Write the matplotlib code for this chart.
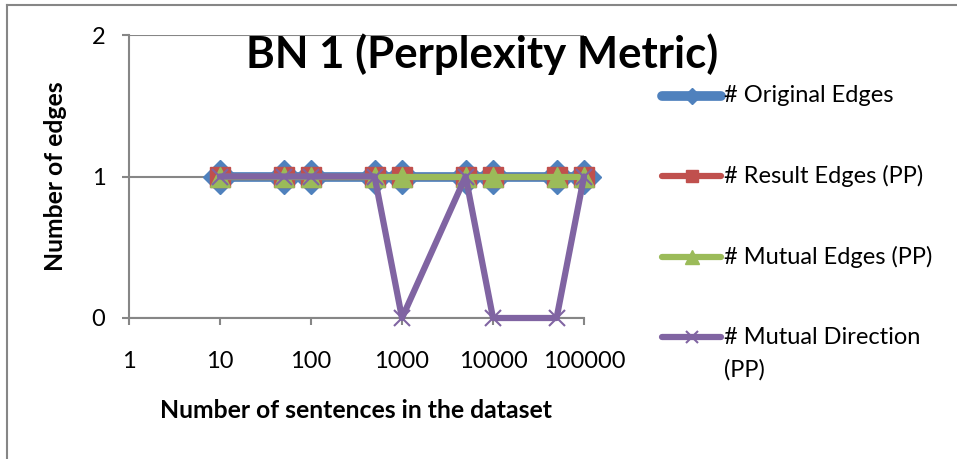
import matplotlib
matplotlib.use("Agg")
import matplotlib.pyplot as plt
from matplotlib.lines import Line2D

plt.rcParams['font.family'] = ['Lato', 'DejaVu Sans']

sentences = [10, 50, 100, 500, 1000, 5000, 10000, 50000, 100000]
original_edges = [1, 1, 1, 1, 1, 1, 1, 1, 1]
result_edges = [1, 1, 1, 1, 1, 1, 1, 1, 1]
mutual_edges = [1, 1, 1, 1, 1, 1, 1, 1, 1]
mutual_direction = [1, 1, 1, 1, 0, 1, 0, 0, 1]
series_labels = ['# Original Edges', '# Result Edges (PP)', '# Mutual Edges (PP)',
                 '# Mutual Direction\n(PP)']
x_ticks = [1, 10, 100, 1000, 10000, 100000]
x_tick_labels = ['1', '10', '100', '1000', '10000', '100000']
y_ticks = [0, 1, 2]

W, H = 957, 459
fig = plt.figure(figsize=(W / 100, H / 100), dpi=100)
L, R, T, B = 129, 584, 35, 318
ax = fig.add_axes([L / W, 1 - B / H, (R - L) / W, (B - T) / H])

blue = '#4F81BD'
red = '#C0504D'
green = '#9BBB59'
purple = '#8064A2'
grey = '#868686'

styles = [
    dict(color=blue, lw=7, marker='D', ms=17, mec=blue, mfc=blue),
    dict(color=red, lw=4.5, marker='s', ms=14, mec=red, mfc=red),
    dict(color=green, lw=4.5, marker='^', ms=14, mec=green, mfc=green),
    dict(color=purple, lw=4.5, marker='x', ms=12, mew=1.5, mec=purple),
]
leg_styles = [
    dict(color=blue, lw=7, marker='D', ms=8, mec=blue, mfc=blue),
    dict(color=red, lw=4.5, marker='s', ms=9, mec=red, mfc=red),
    dict(color=green, lw=4.5, marker='^', ms=10, mec=green, mfc=green),
    dict(color=purple, lw=4.5, marker='x', ms=9, mew=1.5, mec=purple),
]
series = [original_edges, result_edges, mutual_edges, mutual_direction]
for i, (vals, st, lab) in enumerate(zip(series, styles, series_labels)):
    ax.plot(sentences, vals, label=lab, zorder=3 + i, clip_on=False,
            solid_capstyle='round', **st)

ax.set_xscale('log')
ax.set_xlim(1, 100000)
ax.set_ylim(0, 2)
ax.set_xticks(x_ticks)
ax.set_xticklabels(x_tick_labels)
ax.minorticks_off()
ax.set_yticks(y_ticks)
ax.yaxis.grid(True, color=grey, lw=1.5, zorder=0)
ax.set_axisbelow(True)
for s in ['top', 'right']:
    ax.spines[s].set_visible(False)
for s in ['left', 'bottom']:
    ax.spines[s].set_color(grey)
    ax.spines[s].set_linewidth(1.5)
ax.tick_params(axis='both', colors=grey, width=1.5, length=5, labelsize=17,
               labelcolor='black')
ax.tick_params(axis='x', pad=19)
ax.tick_params(axis='y', pad=12)

ax.set_xlabel('Number of sentences in the dataset', fontsize=17.8,
              fontweight='bold', labelpad=19)
ax.set_ylabel('Number of edges', fontsize=17.8, fontweight='bold', labelpad=18)

fig.text(482 / W, 1 - 54 / H, 'BN 1 (Perplexity Metric)', fontsize=31.5,
         fontweight='bold', ha='center', va='center')

# legend (manual, Excel-like layout)
rows = [96, 176, 257, 337]
hx0, hx1, tx = 662, 721, 724
for y, st, lab in zip(rows, leg_styles, series_labels):
    yf = 1 - y / H
    fig.add_artist(Line2D([hx0 / W, (hx0 + hx1) / 2 / W, hx1 / W], [yf, yf, yf],
                          transform=fig.transFigure, markevery=[1],
                          solid_capstyle='round', **st))
    parts = lab.split('\n')
    for j, p in enumerate(parts):
        fig.text(tx / W, 1 - (y + 33 * j) / H, p, fontsize=17, ha='left',
                 va='center')

fig.add_artist(Line2D([7 / W, 7 / W], [0, 1 - 5 / H], color=grey, lw=1.5,
                      transform=fig.transFigure))
fig.add_artist(Line2D([7 / W, 1], [1 - 5 / H, 1 - 5 / H], color=grey, lw=1.5,
                      transform=fig.transFigure))

fig.savefig('out.png', dpi=100)
